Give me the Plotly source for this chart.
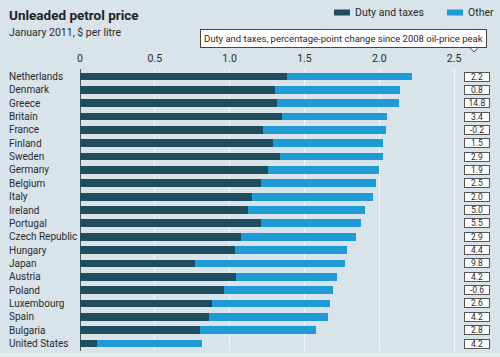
import plotly.graph_objects as go

countries = ["Netherlands", "Denmark", "Greece", "Britain", "France", "Finland",
             "Sweden", "Germany", "Belgium", "Italy", "Ireland", "Portugal",
             "Czech Republic", "Hungary", "Japan", "Austria", "Poland",
             "Luxembourg", "Spain", "Bulgaria", "United States"]
total_price = [2.22, 2.14, 2.13, 2.05, 2.045, 2.025, 2.025, 2.00, 1.98, 1.955,
               1.905, 1.88, 1.845, 1.785, 1.773, 1.718, 1.69, 1.67, 1.66, 1.575, 0.818]
duty_taxes = [1.385, 1.30, 1.315, 1.35, 1.22, 1.288, 1.335, 1.255, 1.21, 1.148,
              1.125, 1.21, 1.074, 1.036, 0.767, 1.043, 0.963, 0.88, 0.865, 0.80, 0.114]
pp_change = ["2.2", "0.8", "14.8", "3.4", "-0.2", "1.5", "2.9", "1.9", "2.5", "2.0",
             "5.0", "5.5", "2.9", "4.4", "9.8", "4.2", "-0.6", "2.6", "4.2", "2.8", "4.2"]
other = [round(t - d, 4) for t, d in zip(total_price, duty_taxes)]

x_ticks = [0, 0.5, 1.0, 1.5, 2.0, 2.5]
x_tick_text = ["0", "0.5", "1.0", "1.5", "2.0", "2.5"]

DARK = "#1f4d5e"
BLUE = "#1f9bd7"
BG = "#d8e3ea"
FONT = "Roboto, sans-serif"
TXT = "#2a2a2a"

W, H = 500, 357
ML, MR, MT, MB = 80, 16, 69, 6
PW = W - ML - MR
PH = H - MT - MB

def px(xp):
    return (xp - ML) / PW

def py(yp):
    return 1 - (yp - MT) / PH

fig = go.Figure()
fig.add_trace(go.Bar(y=countries, x=duty_taxes, orientation="h", name="Duty and taxes",
                     marker=dict(color=DARK, line=dict(width=0)), showlegend=False))
fig.add_trace(go.Bar(y=countries, x=other, orientation="h", name="Other",
                     marker=dict(color=BLUE, line=dict(width=0)), showlegend=False))

annotations = []
for c in countries:
    annotations.append(dict(xref="paper", yref="y", x=px(7), y=c, text=c,
                            xanchor="left", yanchor="middle", showarrow=False,
                            font=dict(family=FONT, size=10, color=TXT)))
for c, v in zip(countries, pp_change):
    annotations.append(dict(xref="paper", yref="y", x=px(476.5), y=c, text=v,
                            xanchor="center", yanchor="middle", showarrow=False,
                            width=24, height=8, bgcolor="white", bordercolor="#555",
                            borderwidth=1, borderpad=0,
                            font=dict(family=FONT, size=8.5, color=TXT)))

annotations += [
    dict(xref="paper", yref="paper", x=px(7), y=py(15), text="<b>Unleaded petrol price</b>",
         xanchor="left", yanchor="middle", showarrow=False,
         font=dict(family=FONT, size=13.5, color="#222")),
    dict(xref="paper", yref="paper", x=px(7), y=py(32), text="January 2011, $ per litre",
         xanchor="left", yanchor="middle", showarrow=False,
         font=dict(family=FONT, size=10.5, color=TXT)),
    dict(xref="paper", yref="paper", x=px(353), y=py(12.5), text="Duty and taxes",
         xanchor="left", yanchor="middle", showarrow=False,
         font=dict(family=FONT, size=10.5, color=TXT)),
    dict(xref="paper", yref="paper", x=px(466), y=py(12.5), text="Other",
         xanchor="left", yanchor="middle", showarrow=False,
         font=dict(family=FONT, size=10.5, color=TXT)),
    dict(xref="paper", yref="paper", x=px(487), y=py(38),
         text="Duty and taxes, percentage-point change since 2008 oil-price peak",
         xanchor="right", yanchor="middle", showarrow=False, bgcolor="white",
         bordercolor="#444", borderwidth=1, borderpad=3,
         font=dict(family=FONT, size=9.5, color=TXT)),
]

shapes = [
    dict(type="rect", xref="paper", yref="paper", x0=px(334), x1=px(350), y0=py(9.5), y1=py(15.5),
         fillcolor=DARK, line=dict(width=0)),
    dict(type="rect", xref="paper", yref="paper", x0=px(447), x1=px(463), y0=py(9.5), y1=py(15.5),
         fillcolor=BLUE, line=dict(width=0)),
    dict(type="path", xref="paper", yref="paper",
         path=f"M {px(469)} {py(46.5)} L {px(474)} {py(52)} L {px(479)} {py(46.5)}",
         fillcolor="white", line=dict(color="#444", width=1)),
    dict(type="rect", xref="paper", yref="paper", x0=px(0), x1=px(500), y0=py(353), y1=py(357),
         fillcolor="#e6edf1", line=dict(width=0), layer="below"),
]

fig.update_layout(
    width=W, height=H,
    margin=dict(l=ML, r=MR, t=MT, b=MB),
    paper_bgcolor=BG, plot_bgcolor=BG,
    barmode="stack", bargap=0.42,
    annotations=annotations, shapes=shapes,
    xaxis=dict(range=[0, 2.7], side="top", tickvals=x_ticks, ticktext=x_tick_text,
               showgrid=True, gridcolor="#f2f6f8", gridwidth=1,
               zeroline=True, zerolinecolor="#555", zerolinewidth=1,
               ticks="", ticklabelstandoff=4,
               tickfont=dict(family=FONT, size=10.5, color=TXT), fixedrange=True),
    yaxis=dict(categoryorder="array", categoryarray=countries, autorange="reversed",
               showticklabels=False, showgrid=False, ticks="", fixedrange=True),
    showlegend=False,
)

fig.write_html("out.html", config={"displayModeBar": False},
               post_script="document.body.style.margin='0';document.body.style.padding='0';")
